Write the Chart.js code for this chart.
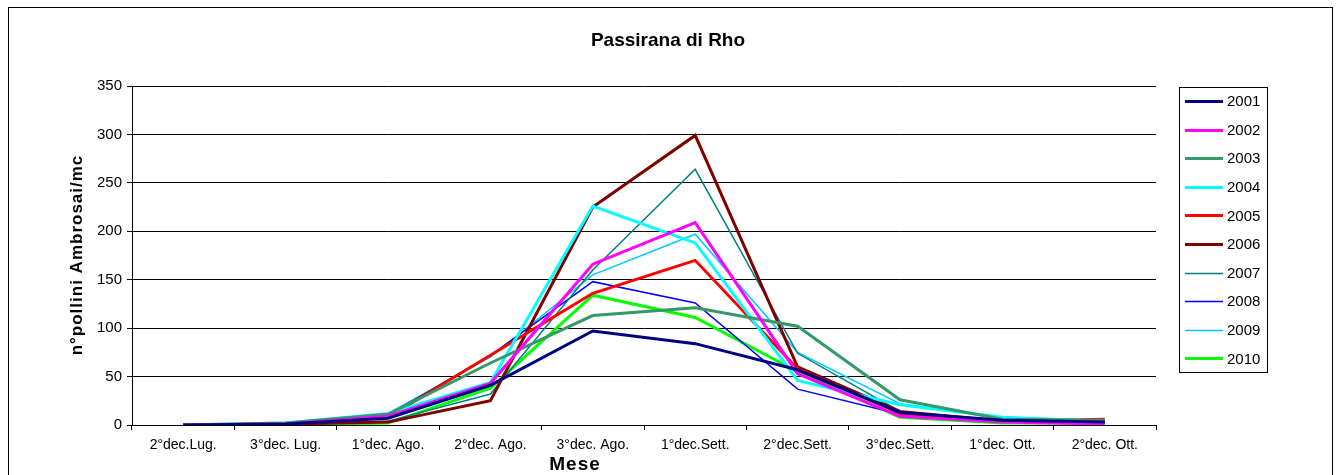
<!DOCTYPE html>
<html>
<head>
<meta charset="utf-8">
<script src="https://cdn.jsdelivr.net/npm/chart.js@4"></script>
<style>
  html, body { margin: 0; padding: 0; background: #fff; }
  #wrap { width: 1340px; height: 475px; position: relative; }
</style>
</head>
<body>
<div id="wrap"><canvas id="pollenChart" width="1340" height="475"></canvas></div>
<script>
const mesi = ['2°dec.Lug.', '3°dec. Lug.', '1°dec. Ago.', '2°dec. Ago.', '3°dec. Ago.',
  '1°dec.Sett.', '2°dec.Sett.', '3°dec.Sett.', '1°dec. Ott.', '2°dec. Ott.'];

const anni = ['2001', '2002', '2003', '2004', '2005', '2006', '2007', '2008', '2009', '2010'];

const v2001 = [0, 1, 7, 41, 97, 84, 57, 13, 5, 3];
const v2002 = [0, 1, 9, 43, 166, 209, 53, 9, 3, 1];
const v2003 = [0, 2, 11, 64, 113, 121, 102, 26, 6, 5];
const v2004 = [0, 2, 12, 44, 226, 188, 46, 21, 8, 4];
const v2005 = [0, 1, 8, 72, 136, 170, 58, 12, 4, 6];
const v2006 = [0, 1, 3, 25, 225, 299, 60, 14, 4, 4];
const v2007 = [0, 1, 4, 32, 160, 264, 74, 14, 4, 3];
const v2008 = [0, 1, 10, 72, 148, 126, 37, 11, 4, 3];
const v2009 = [0, 2, 12, 70, 155, 197, 75, 22, 8, 4];
const v2010 = [0, 0, 2, 38, 134, 111, 55, 8, 2, 2];

const yTicks = [0, 50, 100, 150, 200, 250, 300, 350];

const valori = [v2001, v2002, v2003, v2004, v2005, v2006, v2007, v2008, v2009, v2010];
const colori = ['#000080', '#FF00FF', '#339966', '#00FFFF', '#FF0000', '#800000', '#008080', '#0000FF', '#00CCFF', '#00FF00'];
const spessori = [3, 3, 3, 3, 3, 3, 1.5, 1.5, 1.5, 3];

const FONT = '"Liberation Sans", Arial, sans-serif';

const datasets = anni.map((anno, i) => ({
  label: anno,
  data: valori[i],
  borderColor: colori[i],
  backgroundColor: colori[i],
  borderWidth: spessori[i],
  pointRadius: 0,
  tension: 0,
  fill: false
}));

// frame, titles and boxed legend, drawn like the Excel original
const excelDecor = {
  id: 'excelDecor',
  afterDraw(chart) {
    const ctx = chart.ctx;
    ctx.save();
    ctx.strokeStyle = '#000';
    ctx.lineWidth = 1;
    ctx.strokeRect(8.5, 7.5, 1324, 480);

    ctx.fillStyle = '#000';
    ctx.font = 'bold 19px ' + FONT;
    ctx.textAlign = 'center';
    ctx.textBaseline = 'alphabetic';
    ctx.fillText('Passirana di Rho', 668, 46);

    ctx.font = 'bold 19px ' + FONT;
    ctx.letterSpacing = '1px';
    ctx.fillText('Mese', 575, 470);

    ctx.save();
    ctx.translate(82, 255);
    ctx.rotate(-Math.PI / 2);
    ctx.font = 'bold 17px ' + FONT;
    ctx.letterSpacing = '1px';
    ctx.fillText('n°pollini Ambrosai/mc', 0, 0);
    ctx.restore();
    ctx.letterSpacing = '0px';

    // legend
    ctx.strokeRect(1179.5, 87.5, 88, 285);
    ctx.font = '15px ' + FONT;
    ctx.textAlign = 'left';
    ctx.textBaseline = 'middle';
    chart.data.datasets.forEach((ds, i) => {
      const y = 101 + i * 28.6;
      ctx.strokeStyle = ds.borderColor;
      ctx.lineWidth = ds.borderWidth;
      ctx.beginPath();
      ctx.moveTo(1185, Math.round(y) + 0.5);
      ctx.lineTo(1223, Math.round(y) + 0.5);
      ctx.stroke();
      ctx.fillStyle = '#000';
      ctx.fillText(ds.label, 1227, y + 1);
    });
    ctx.restore();
  }
};

new Chart(document.getElementById('pollenChart'), {
  type: 'line',
  data: { labels: mesi, datasets: datasets },
  options: {
    responsive: false,
    animation: false,
    layout: { padding: { left: 0, top: 86, right: 184, bottom: 0 } },
    plugins: {
      legend: { display: false },
      tooltip: { enabled: false },
      title: { display: false }
    },
    scales: {
      x: {
        type: 'category',
        offset: true,
        grid: { offset: true, drawOnChartArea: false, drawTicks: true, tickLength: 5, color: '#000' },
        border: { color: '#000', width: 1 },
        ticks: {
          color: '#000', font: { family: FONT, size: 14 }, maxRotation: 0, autoSkip: false, padding: 7
        },
        afterFit(scale) { scale.height = 50; }
      },
      y: {
        min: 0,
        max: 350,
        afterBuildTicks(scale) { scale.ticks = yTicks.map(v => ({ value: v })); },
        grid: { color: '#000', lineWidth: 1, drawTicks: true, tickLength: 5 },
        border: { color: '#000', width: 1 },
        ticks: { color: '#000', font: { family: FONT, size: 15 }, padding: 5 },
        afterFit(scale) { scale.width = 132; }
      }
    }
  },
  plugins: [excelDecor]
});
</script>
</body>
</html>
